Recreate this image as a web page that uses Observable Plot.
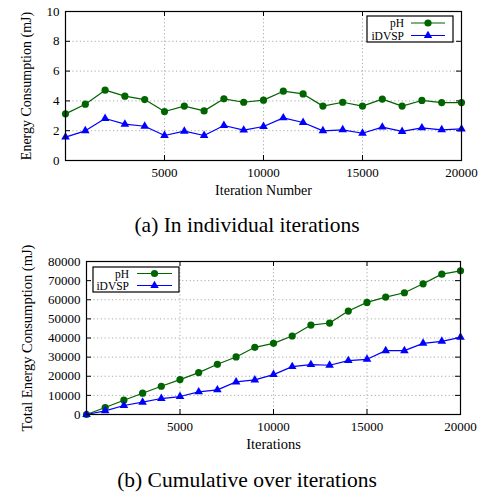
<!DOCTYPE html>
<html><head><meta charset="utf-8">
<script src="https://cdn.jsdelivr.net/npm/d3@7"></script>
<script src="https://cdn.jsdelivr.net/npm/@observablehq/plot@0.6"></script>
<style>
body{margin:0;background:#fff;font-family:"Liberation Serif","DejaVu Serif",serif;}
#wrap{position:relative;width:483px;height:492px;overflow:hidden;}
.blk{position:absolute;left:0;}
.cap{position:absolute;left:0;width:494px;text-align:center;font-family:"Liberation Serif",serif;font-size:21.5px;line-height:24px;color:#000;white-space:nowrap;}
</style></head>
<body><div id="wrap"></div>
<script>
const iterations = [0,1000,2000,3000,4000,5000,6000,7000,8000,9000,10000,11000,12000,13000,14000,15000,16000,17000,18000,19000,20000];
const phPerIter = [3.13,3.78,4.72,4.32,4.09,3.29,3.65,3.33,4.14,3.91,4.05,4.65,4.47,3.65,3.91,3.65,4.12,3.65,4.03,3.89,3.89];
const idvspPerIter = [1.57,1.99,2.82,2.44,2.30,1.68,1.97,1.68,2.35,2.04,2.28,2.86,2.55,1.99,2.06,1.83,2.24,1.95,2.19,2.06,2.12];
const phTotal = [0,3650,7480,11130,14780,18260,21910,26260,30090,35130,37220,41040,46780,47830,54090,58610,61390,63650,68350,73390,75130];
const idvspTotal = [0,1910,4700,6430,8350,9390,11830,12870,17040,18090,20870,25040,26090,25740,28170,28870,33390,33390,37220,38260,40350];
const seriesNames = ["pH","iDVSP"];
const xTicks = [5000,10000,15000,20000];
const yTicksTop = [0,2,4,6,8,10];
const yTicksBottom = [0,10000,20000,30000,40000,50000,60000,70000,80000];
const captions = ["(a) In individual iterations","(b) Cumulative over iterations"];

const GREEN = "#006400", BLUE = "#0000ff";

function makeChart(cfg){
  const data = [];
  iterations.forEach((x,i)=>{
    data.push({x, y: cfg.ph[i], s: "pH"});
    data.push({x, y: cfg.id[i], s: "iDVSP"});
  });
  const innerW = cfg.width - cfg.ml - cfg.mr;
  const innerH = cfg.height - cfg.mt - cfg.mb;
  const yMax = cfg.yTicks[cfg.yTicks.length-1];
  const gridY = cfg.yTicks.filter(v=>v>0 && v<yMax);
  const gridX = xTicks.filter(v=>v<20000);
  const tk = 5;
  const fmt = d3.format("d");
  const svg = Plot.plot({
    width: cfg.width, height: cfg.height,
    marginLeft: cfg.ml, marginRight: cfg.mr, marginTop: cfg.mt, marginBottom: cfg.mb,
    style: {fontFamily: '"Liberation Serif", serif', fontSize: "13px", color: "#000", background: "#fff", overflow: "visible"},
    x: {domain: [0,20000]},
    y: {domain: [0,yMax]},
    marks: [
      Plot.ruleY(gridY, {stroke:"#aaa", strokeDasharray:"1.2,2.5", strokeWidth:1}),
      Plot.ruleX(gridX, {stroke:"#aaa", strokeDasharray:"1.2,2.5", strokeWidth:1}),
      Plot.tickY(cfg.yTicks, {y:d=>d, insetRight: innerW - tk, stroke:"#000"}),
      Plot.tickY(cfg.yTicks, {y:d=>d, insetLeft: innerW - tk, stroke:"#000"}),
      Plot.tickX(xTicks, {x:d=>d, insetTop: innerH - tk, stroke:"#000"}),
      Plot.tickX(xTicks, {x:d=>d, insetBottom: innerH - tk, stroke:"#000"}),
      Plot.axisY(cfg.yTicks, {anchor:"left", tickSize:0, tickPadding:6, fontSize:13, tickFormat: fmt,
        label: cfg.yLabel, labelAnchor:"center", labelArrow:"none", labelOffset: cfg.yLabelOffset}),
      Plot.axisX(xTicks, {anchor:"bottom", tickSize:0, tickPadding:7, fontSize:13, tickFormat: fmt,
        label: cfg.xLabel, labelAnchor:"center", labelArrow:"none", labelOffset: 34}),
      Plot.line(data, {x:"x", y:"y", z:"s", stroke: d=>d.s==="pH"?GREEN:BLUE, strokeWidth:1.2}),
      Plot.dot(data.filter(d=>d.s==="pH"), {x:"x", y:"y", r:3.6, fill:GREEN, stroke:"none", symbol:"circle"}),
      Plot.dot(data.filter(d=>d.s==="iDVSP"), {x:"x", y:"y", r:3.2, fill:BLUE, stroke:"none", symbol:"triangle"}),
      Plot.frame({stroke:"#000", strokeWidth:1.2})
    ]
  });
  svg.querySelectorAll("g[aria-label='y-axis label'] text, g[aria-label='x-axis label'] text").forEach(t=>{t.setAttribute("font-size", cfg.labelSize);});
  const g = d3.select(svg).append("g").attr("font-size",11.5).attr("font-family",'"Liberation Serif", serif');
  const L = cfg.legend;
  g.append("rect").attr("x",L.x0).attr("y",L.y0).attr("width",L.x1-L.x0).attr("height",L.y1-L.y0)
    .attr("fill","#fff").attr("stroke","#000").attr("stroke-width",1.2);
  const sym = {pH: d3.symbol(d3.symbolCircle, Math.PI*3.6*3.6), iDVSP: d3.symbol(d3.symbolTriangle, 3.2*3.2*3)};
  seriesNames.forEach((n,i)=>{
    const yy = L.rows[i];
    const col = n==="pH"?GREEN:BLUE;
    g.append("text").attr("x",L.tx).attr("y",yy).attr("dy","0.35em").attr("text-anchor","end").text(n);
    g.append("line").attr("x1",L.lx0).attr("x2",L.lx1).attr("y1",yy).attr("y2",yy).attr("stroke",col).attr("stroke-width",1.2);
    g.append("path").attr("d",sym[n]()).attr("transform",`translate(${(L.lx0+L.lx1)/2},${yy})`).attr("fill",col);
  });
  return svg;
}

const wrap = document.getElementById("wrap");
function place(el, y){ const d=document.createElement("div"); d.className="blk"; d.style.top=y+"px"; d.appendChild(el); wrap.appendChild(d); }

const chartA = makeChart({width:483, height:200, ml:65, mr:22, mt:11, mb:40,
  ph: phPerIter, id: idvspPerIter, yTicks: yTicksTop, labelSize: 14,
  yLabel:"Energy Consumption (mJ)", yLabelOffset:44, xLabel:"Iteration Number",
  legend:{x0:367,x1:453,y0:16,y1:42,rows:[23,35.5],tx:404,lx0:411,lx1:445}});
place(chartA, 0);

const chartB = makeChart({width:483, height:215, ml:86, mr:23, mt:21, mb:41,
  ph: phTotal, id: idvspTotal, yTicks: yTicksBottom, labelSize: 14.5,
  yLabel:"Total Energy Consumption (mJ)", yLabelOffset:65, xLabel:"Iterations",
  legend:{x0:93,x1:179,y0:27,y1:52,rows:[33.5,45.5],tx:129,lx0:137,lx1:172}});
place(chartB, 240);

[[captions[0],213],[captions[1],468]].forEach(([t,y])=>{
  const c=document.createElement("div"); c.className="cap"; c.style.top=y+"px"; c.textContent=t; wrap.appendChild(c);
});
</script></body></html>
